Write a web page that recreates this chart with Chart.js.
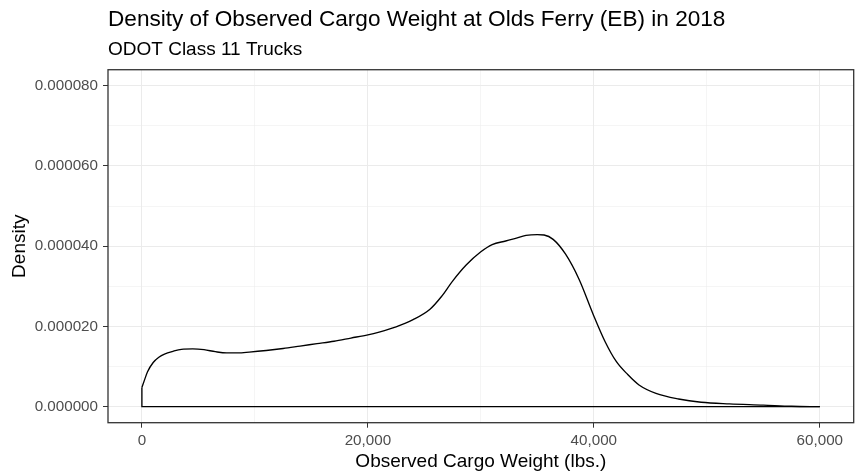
<!DOCTYPE html>
<html lang="en">
<head>
<meta charset="UTF-8">
<title>Density of Observed Cargo Weight at Olds Ferry (EB) in 2018</title>
<script src="https://cdn.jsdelivr.net/npm/chart.js"></script>
<style>
    body, html {
        margin: 0;
        padding: 0;
        background: #ffffff;
    }
    .chart-box {
        width: 857px;
        height: 474px;
        position: relative;
    }
</style>
</head>
<body>
<div class="chart-box">
    <canvas id="densityChart"></canvas>
</div>

<script>
    // Density curve (lbs. vs density)
    const cargoWeight = [0, 250, 500, 1000, 1500, 2000, 2750, 3500, 4500, 5500, 6500, 7500, 8500, 9500,
        11000, 12500, 14000, 15500, 17000, 18500, 20000, 21000, 22500, 24000, 25500, 26500, 27500,
        28700, 30000, 31000, 32200, 33000, 34000, 35000, 35600, 36400, 37500, 38700, 39900, 41000,
        42000, 43000, 44000, 45500, 47500, 49500, 52000, 55000, 57500, 60000];
    const density = [4.8e-6, 6.8e-6, 8.7e-6, 1.1e-5, 1.23e-5, 1.31e-5, 1.38e-5, 1.43e-5, 1.44e-5, 1.42e-5,
        1.37e-5, 1.34e-5, 1.34e-5, 1.36e-5, 1.40e-5, 1.45e-5, 1.51e-5, 1.57e-5, 1.63e-5, 1.71e-5,
        1.79e-5, 1.86e-5, 1.99e-5, 2.17e-5, 2.43e-5, 2.74e-5, 3.13e-5, 3.53e-5, 3.86e-5, 4.04e-5,
        4.13e-5, 4.19e-5, 4.27e-5, 4.29e-5, 4.28e-5, 4.17e-5, 3.80e-5, 3.17e-5, 2.33e-5, 1.62e-5,
        1.12e-5, 8.0e-6, 5.4e-6, 3.3e-6, 1.9e-6, 1.1e-6, 7e-7, 4e-7, 1e-7, 0];

    // Axis ticks
    const xTickValues = [0, 20000, 40000, 60000];
    const xMinorValues = [10000, 30000, 50000];
    const yTickValues = [0, 0.00002, 0.00004, 0.00006, 0.00008];
    const yMinorValues = [0.00001, 0.00003, 0.00005, 0.00007];

    const xAll = xTickValues.concat(xMinorValues).sort((a, b) => a - b);
    const yAll = yTickValues.concat(yMinorValues).sort((a, b) => a - b);
    const isMajorX = v => xTickValues.some(t => Math.abs(t - v) < 1);
    const isMajorY = v => yTickValues.some(t => Math.abs(t - v) < 1e-9);

    const curvePoints = cargoWeight.map((x, i) => ({ x: x, y: density[i] }));
    // polygon outline: vertical edge at the left end and the baseline
    const basePoints = [
        { x: cargoWeight[0], y: density[0] },
        { x: cargoWeight[0], y: 0 },
        { x: cargoWeight[cargoWeight.length - 1], y: 0 }
    ];

    const fontFamily = "'Liberation Sans', Arial, sans-serif";

    // ggplot-style panel border
    const panelBorder = {
        id: 'panelBorder',
        afterDatasetsDraw(chart) {
            const a = chart.chartArea;
            const ctx = chart.ctx;
            ctx.save();
            ctx.strokeStyle = '#333333';
            ctx.lineWidth = 1.3;
            ctx.strokeRect(a.left, a.top, a.right - a.left, a.bottom - a.top);
            ctx.restore();
        }
    };

    const ctx = document.getElementById('densityChart').getContext('2d');
    new Chart(ctx, {
        type: 'line',
        data: {
            datasets: [{
                label: 'Density',
                data: curvePoints,
                borderColor: '#000000',
                borderWidth: 1.35,
                pointRadius: 0,
                fill: false,
                cubicInterpolationMode: 'monotone'
            }, {
                label: 'Baseline',
                data: basePoints,
                borderColor: '#000000',
                borderWidth: 1.35,
                pointRadius: 0,
                fill: false,
                tension: 0
            }]
        },
        options: {
            responsive: true,
            maintainAspectRatio: false,
            animation: false,
            layout: {
                padding: { top: 0, left: 0, right: 3.3, bottom: 0 }
            },
            scales: {
                x: {
                    type: 'linear',
                    min: -3000,
                    max: 63000,
                    afterBuildTicks: scale => { scale.ticks = xAll.map(v => ({ value: v })); },
                    afterFit: scale => { scale.height = 51.3; },
                    border: { display: false },
                    grid: {
                        color: '#EBEBEB',
                        lineWidth: c => isMajorX(c.tick.value) ? 1 : 0.5,
                        drawTicks: true,
                        tickLength: 5,
                        tickWidth: 1,
                        tickColor: c => isMajorX(c.tick.value) ? '#333333' : 'rgba(0,0,0,0)'
                    },
                    ticks: {
                        autoSkip: false,
                        maxRotation: 0,
                        padding: 4,
                        color: '#4D4D4D',
                        font: { family: fontFamily, size: 15.2 },
                        callback: v => isMajorX(v) ? v.toLocaleString('en-US') : ''
                    },
                    title: {
                        display: true,
                        text: 'Observed Cargo Weight (lbs.)',
                        color: '#000000',
                        font: { family: fontFamily, size: 19 },
                        padding: { top: 0, bottom: 1 }
                    }
                },
                y: {
                    type: 'linear',
                    min: -0.000004,
                    max: 0.000084,
                    afterBuildTicks: scale => { scale.ticks = yAll.map(v => ({ value: v })); },
                    afterFit: scale => { scale.width = 108; },
                    border: { display: false },
                    grid: {
                        color: '#EBEBEB',
                        lineWidth: c => isMajorY(c.tick.value) ? 1 : 0.5,
                        drawTicks: true,
                        tickLength: 5,
                        tickWidth: 1,
                        tickColor: c => isMajorY(c.tick.value) ? '#333333' : 'rgba(0,0,0,0)'
                    },
                    ticks: {
                        autoSkip: false,
                        padding: 5,
                        color: '#4D4D4D',
                        font: { family: fontFamily, size: 15.2 },
                        callback: v => isMajorY(v) ? v.toFixed(6) : ''
                    },
                    title: {
                        display: true,
                        text: 'Density',
                        color: '#000000',
                        font: { family: fontFamily, size: 19 },
                        padding: { top: 8, bottom: 0 }
                    }
                }
            },
            plugins: {
                legend: { display: false },
                tooltip: { enabled: false },
                title: {
                    display: true,
                    text: 'Density of Observed Cargo Weight at Olds Ferry (EB) in 2018',
                    align: 'start',
                    fullSize: false,
                    color: '#000000',
                    font: { family: fontFamily, size: 22.6, weight: 'normal' },
                    padding: { top: 6, bottom: 0 }
                },
                subtitle: {
                    display: true,
                    text: 'ODOT Class 11 Trucks',
                    align: 'start',
                    fullSize: false,
                    color: '#000000',
                    font: { family: fontFamily, size: 19 },
                    padding: { top: 5.2, bottom: 8.6 }
                }
            }
        },
        plugins: [panelBorder]
    });
</script>
</body>
</html>
